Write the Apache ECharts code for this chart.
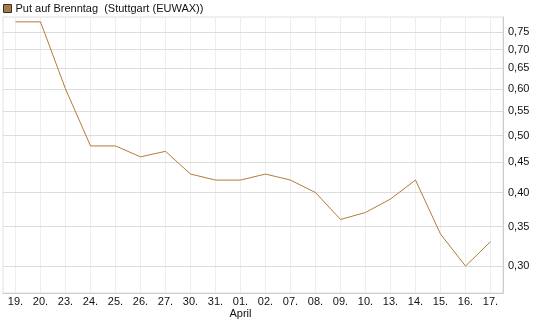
<!DOCTYPE html>
<html><head><meta charset="utf-8">
<script src="https://cdn.jsdelivr.net/npm/echarts@6/dist/echarts.min.js"></script>
<style>html,body{margin:0;padding:0;background:#fff}#c{width:545px;height:327px}</style>
</head><body><div id="c"></div>
<script>
const categories = ['19.','20.','23.','24.','25.','26.','27.','30.','31.','01.','02.','07.','08.','09.','10.','13.','14.','15.','16.','17.'];
const monthLabels = {'01.': 'April'};
const values = [0.78,0.78,0.60,0.48,0.48,0.46,0.47,0.43,0.42,0.42,0.43,0.42,0.40,0.36,0.37,0.39,0.42,0.34,0.30,0.33];
const yTicks = [0.30,0.35,0.40,0.45,0.50,0.55,0.60,0.65,0.70,0.75];
const seriesName = 'Put auf Brenntag  (Stuttgart (EUWAX))';

const chart = echarts.init(document.getElementById('c'), null, {renderer: 'canvas'});
const font = 'Liberation Sans, Arial, sans-serif';
chart.setOption({
  animation: false,
  textStyle: {fontFamily: font},
  legend: {
    left: 3, top: 3, padding: 0, itemWidth: 8, itemHeight: 8, itemGap: 5, icon: 'rect',
    textStyle: {fontSize: 11, color: '#111', fontFamily: font, padding: [0, 0, 0, -1]},
    itemStyle: {color: '#a87a45', borderColor: '#333', borderWidth: 1},
    data: [seriesName]
  },
  grid: {left: 3, right: 42, top: 17, bottom: 34, show: true, borderColor: '#e0e0e0', borderWidth: 1},
  xAxis: {
    type: 'category', data: categories, boundaryGap: true,
    axisLine: {show: true, lineStyle: {color: '#cccccc'}},
    axisTick: {show: false},
    splitLine: {show: true, alignWithLabel: true, interval: 0, lineStyle: {color: '#eeeeee', width: 1}},
    axisLabel: {
      interval: 0, color: '#111', fontSize: 11, fontFamily: font, margin: 3, lineHeight: 12,
      formatter: v => monthLabels[v] ? v + '\n' + monthLabels[v] : v
    }
  },
  yAxis: {
    type: 'log', position: 'right', min: 0.27, max: 0.795,
    axisLine: {show: true, lineStyle: {color: '#cccccc'}},
    axisTick: {show: false}, axisLabel: {show: false}, splitLine: {show: false}
  },
  series: [{
    name: seriesName, type: 'line', data: values, symbol: 'none',
    lineStyle: {color: '#b07d3a', width: 1}, itemStyle: {color: '#b07d3a'}, z: 3,
    markLine: {
      silent: true, symbol: 'none', z: 1, animation: false,
      lineStyle: {color: '#dddddd', type: 'solid', width: 1},
      label: {show: true, position: 'end', distance: 5, color: '#111', fontSize: 11, fontFamily: font,
        formatter: p => p.value.toFixed(2).replace('.', ',')},
      emphasis: {disabled: true},
      data: yTicks.map(v => ({yAxis: v}))
    }
  }]
});
</script></body></html>
